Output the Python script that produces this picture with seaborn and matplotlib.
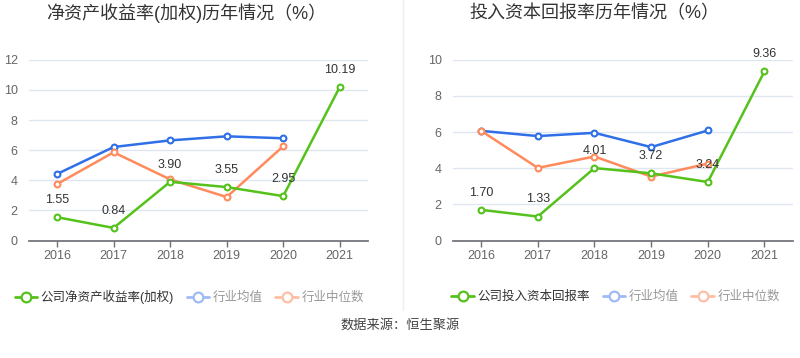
import matplotlib.pyplot as plt
import matplotlib.lines as mlines
import numpy as np
import pandas as pd
import seaborn as sns

# ---- data ---------------------------------------------------------------
years = ['2016', '2017', '2018', '2019', '2020', '2021']

roe_company = [1.55, 0.84, 3.90, 3.55, 2.95, 10.19]
roe_ind_mean = [4.42, 6.21, 6.65, 6.92, 6.79]
roe_ind_median = [3.75, 5.86, 4.06, 2.89, 6.26]

roic_company = [1.70, 1.33, 4.01, 3.72, 3.24, 9.36]
roic_ind_mean = [6.07, 5.78, 5.96, 5.17, 6.09]
roic_ind_median = [6.07, 4.02, 4.65, 3.54, 4.26]

GREEN = '#55c21c'
BLUE = '#2f6fe8'
ORANGE = '#ff8a5b'
BLUE_L = '#9fbaf4'
ORANGE_L = '#ffbfa6'

sns.set_theme(style='white')
plt.rcParams['font.family'] = ['Liberation Sans', 'Noto Sans CJK SC', 'DejaVu Sans']


def draw_panel(ax, company, mean, median, ymax, step):
    df = pd.DataFrame({'x': np.arange(len(company)), 'y': company})
    dm = pd.DataFrame({'x': np.arange(len(mean)), 'y': mean})
    dd = pd.DataFrame({'x': np.arange(len(median)), 'y': median})
    style = dict(marker='o', markersize=4.2, markerfacecolor='white',
                 markeredgewidth=1.5, linewidth=1.8, ax=ax)
    sns.lineplot(data=dm, x='x', y='y', color=BLUE, markeredgecolor=BLUE, **style)
    sns.lineplot(data=dd, x='x', y='y', color=ORANGE, markeredgecolor=ORANGE, **style)
    sns.lineplot(data=df, x='x', y='y', color=GREEN, markeredgecolor=GREEN, **style)
    for i, v in enumerate(company):
        ax.annotate(f'{v:.2f}', (i, v), xytext=(0, 8), textcoords='offset points',
                    ha='center', va='bottom', fontsize=9, color='#333333')
    ax.set_xlim(-0.5, len(years) - 0.5)
    ax.set_ylim(0, ymax)
    ax.set_xticks(range(len(years)))
    ax.set_xticklabels(years)
    ax.set_yticks(np.arange(0, ymax + 0.1, step))
    ax.set_xlabel('')
    ax.set_ylabel('')
    ax.grid(axis='y', color='#e0e6f1', linewidth=1)
    ax.set_axisbelow(True)
    for s in ['top', 'right', 'left']:
        ax.spines[s].set_visible(False)
    ax.spines['bottom'].set_color('#6e7079')
    ax.tick_params(axis='x', colors='#6e7079', labelsize=9, length=4, width=1,
                   direction='out', bottom=True, labelcolor='#666666', pad=3)
    ax.tick_params(axis='y', labelsize=9, length=0, labelcolor='#666666', pad=8)


fig = plt.figure(figsize=(8, 3.58), dpi=100)
ax1 = fig.add_axes([0.036, 0.328, 0.424, 0.505])
ax2 = fig.add_axes([0.566, 0.328, 0.425, 0.505])

draw_panel(ax1, roe_company, roe_ind_mean, roe_ind_median, 12, 2)
draw_panel(ax2, roic_company, roic_ind_mean, roic_ind_median, 10, 2)

fig.text(186 / 800, 0.962, '净资产收益率(加权)历年情况（%）', ha='center', va='center',
         fontsize=13, color='#333333')
fig.text(594 / 800, 0.962, '投入资本回报率历年情况（%）', ha='center', va='center',
         fontsize=13, color='#333333')

# divider
fig.add_artist(mlines.Line2D([403 / 800, 403 / 800], [1 - 310 / 358, 1.0],
                             color='#eeeeee', linewidth=1))


def handle(c):
    return mlines.Line2D([], [], color=c, marker='o', markersize=7,
                         markerfacecolor='white', markeredgecolor=c,
                         markeredgewidth=1.6, linewidth=2)


def legend(labels, x):
    leg = fig.legend([handle(GREEN), handle(BLUE_L), handle(ORANGE_L)], labels,
                     loc='center left', bbox_to_anchor=(x, 1 - 297 / 358), ncol=3,
                     frameon=False, fontsize=9, handlelength=1.8, handletextpad=0.3,
                     columnspacing=1.0, borderaxespad=0)
    cols = ['#333333', '#999999', '#999999']
    for t, c in zip(leg.get_texts(), cols):
        t.set_color(c)


legend(['公司净资产收益率(加权)', '行业均值', '行业中位数'], 0.012)
legend(['公司投入资本回报率', '行业均值', '行业中位数'], 0.558)

fig.text(0.5, 1 - 325 / 358, '数据来源：恒生聚源', ha='center', va='center',
         fontsize=9.5, color='#444444')

fig.savefig('out.png', dpi=100)
